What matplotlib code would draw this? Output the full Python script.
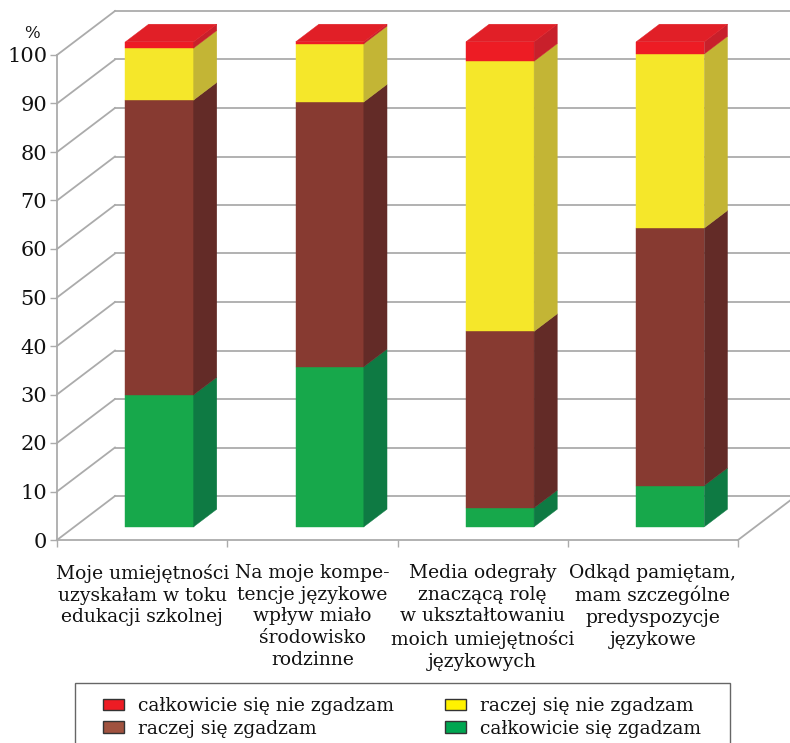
import matplotlib
matplotlib.use("Agg")
import matplotlib.pyplot as plt
from matplotlib.patches import Polygon, Patch, Rectangle

categories = [
    "Moje umiejętności\nuzyskałam w toku\nedukacji szkolnej",
    "Na moje kompe-\ntencje językowe\nwpływ miało\nśrodowisko\nrodzinne",
    "Media odegrały\nznaczącą rolę\nw ukształtowaniu\nmoich umiejętności\njęzykowych",
    "Odkąd pamiętam,\nmam szczególne\npredyspozycje\njęzykowe",
]
green = [27.2, 33.0, 3.9, 8.5]     # całkowicie się zgadzam
brown = [60.8, 54.6, 36.4, 53.1]   # raczej się zgadzam
yellow = [10.7, 12.0, 55.7, 35.9]  # raczej się nie zgadzam
red = [1.3, 0.4, 4.0, 2.5]         # całkowicie się nie zgadzam
yticks = list(range(0, 101, 10))
legend_labels = ["całkowicie się nie zgadzam", "raczej się zgadzam",
                 "raczej się nie zgadzam", "całkowicie się zgadzam"]

plt.rcParams['font.family'] = ['DejaVu Serif']
TXT = "#111111"

W, H = 790, 743
fig = plt.figure(figsize=(W / 100, H / 100), dpi=100)
ax = fig.add_axes([57 / W, (H - 540) / H, 681 / W, 485 / H])
ax.set_xlim(-0.5, 3.5)
ax.set_ylim(0, 100)

GRID = "#ababab"
# depth (3D offset) in data units: full depth of the box
px_per_x = 681 / 4.0
px_per_y = 485 / 100.0
DX = 58 / px_per_x
DY = 44 / px_per_y


def P(c, v, d):
    return (c + d * DX, v + d * DY)


# walls
for v in yticks:
    x0, y0 = P(-0.5, v, 0)
    x1, y1 = P(-0.5, v, 1)
    ax.plot([x0, x1], [y0, y1], color=GRID, lw=1.3, clip_on=False, zorder=1)
    x2, y2 = P(3.5, v, 1)
    ax.plot([x1, x2], [y1, y2], color=GRID, lw=1.3, clip_on=False, zorder=1)
# floor right edge
xa, ya = P(3.5, 0, 0)
xb, yb = P(3.5, 0, 1)
ax.plot([xa, xb], [ya, yb], color=GRID, lw=1.3, clip_on=False, zorder=1)

# bars
bw = 0.4
d0, d1 = 0.3, 0.7
series = [
    (green, "#17a84b", "#0e7a43", "#17a84b"),
    (brown, "#873a31", "#632b27", "#873a31"),
    (yellow, "#f5e72a", "#c3b535", "#f5e72a"),
    (red, "#ed1c24", "#c8202b", "#e11f27"),
]
for i in range(len(categories)):
    base = 0.0
    for k, (vals, cf, cs, ct) in enumerate(series):
        top = base + vals[i]
        l, r = i - bw / 2, i + bw / 2
        front = [P(l, base, d0), P(r, base, d0), P(r, top, d0), P(l, top, d0)]
        side = [P(r, base, d0), P(r, base, d1), P(r, top, d1), P(r, top, d0)]
        ax.add_patch(Polygon(front, closed=True, facecolor=cf, edgecolor=cf,
                             lw=0.3, clip_on=False, zorder=3))
        ax.add_patch(Polygon(side, closed=True, facecolor=cs, edgecolor=cs,
                             lw=0.3, clip_on=False, zorder=3))
        if k == len(series) - 1:
            topf = [P(l, top, d0), P(r, top, d0), P(r, top, d1), P(l, top, d1)]
            ax.add_patch(Polygon(topf, closed=True, facecolor=ct, edgecolor=ct,
                                 lw=0.3, clip_on=False, zorder=3))
        base = top

# axes styling
for s in ["top", "right"]:
    ax.spines[s].set_visible(False)
for s in ["left", "bottom"]:
    ax.spines[s].set_color(GRID)
    ax.spines[s].set_linewidth(1.3)
ax.set_facecolor("none")
ax.set_yticks(yticks)
ax.set_yticklabels([str(v) for v in yticks])
ax.tick_params(axis="y", length=5, width=1.0, color=GRID, labelsize=15,
               pad=2, labelcolor=TXT)
ax.set_xticks([-0.5, 0.5, 1.5, 2.5, 3.5])
ax.set_xticklabels([])
ax.tick_params(axis="x", which="major", length=5, width=1.0, color=GRID)
ax.set_xticks(range(len(categories)), minor=True)
ax.set_xticklabels(categories, minor=True)
ax.tick_params(axis="x", which="minor", length=0, labelsize=13.5, pad=17,
               labelcolor=TXT)
for lbl in ax.get_xticklabels(minor=True):
    lbl.set_linespacing(1.28)

fig.text(32 / W, 1 - 33 / H, "%", ha="center", va="center", fontsize=12,
         color=TXT)

# legend frame (bottom edge runs off the image)
fig.patches.append(Rectangle((75 / W, -0.02), (730 - 75) / W,
                             (H - 683) / H + 0.02, transform=fig.transFigure,
                             facecolor="white", edgecolor="#666666", lw=1.0,
                             zorder=0))
handles = [Patch(facecolor="#ed1c24", edgecolor="#333333", lw=1.0),
           Patch(facecolor="#a0523f", edgecolor="#333333", lw=1.0),
           Patch(facecolor="#fff200", edgecolor="#333333", lw=1.0),
           Patch(facecolor="#00a651", edgecolor="#333333", lw=1.0)]
leg = fig.legend(handles, legend_labels, ncol=2, loc="upper left",
                 bbox_to_anchor=(103 / W, 1 - 697 / H),
                 fontsize=13.5, frameon=False,
                 handlelength=1.12, handleheight=0.55, handletextpad=0.72,
                 labelspacing=0.25, borderpad=0, columnspacing=2.75,
                 borderaxespad=0)
for t in leg.get_texts():
    t.set_color(TXT)

fig.savefig("out.png", dpi=100)
